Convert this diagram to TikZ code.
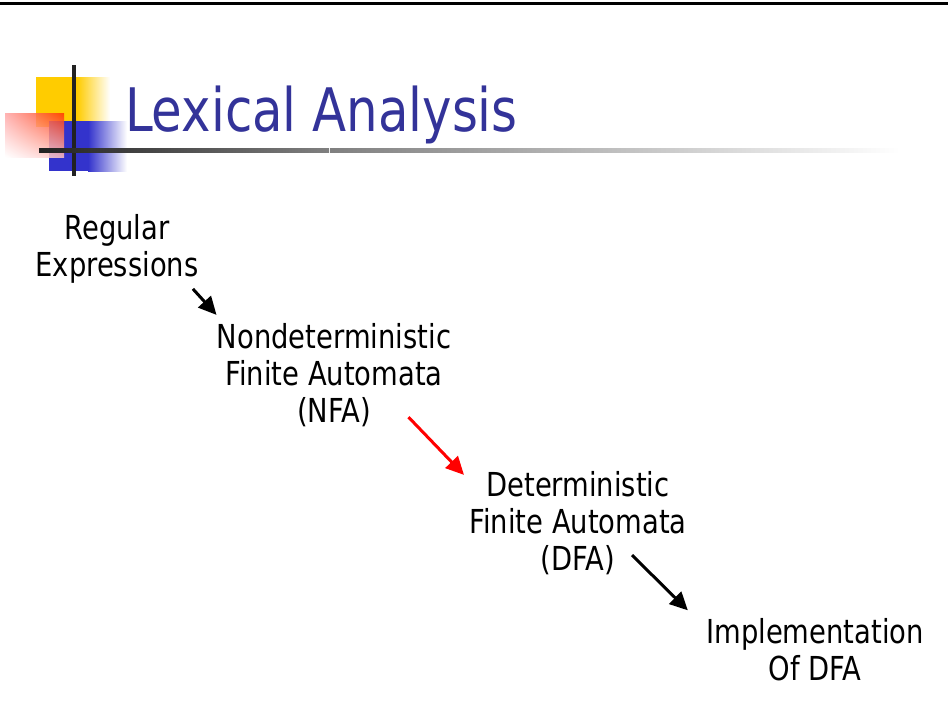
\documentclass[tikz,border=0pt]{standalone}
\usepackage{fontspec}
\setmainfont{DejaVu Sans}[FakeStretch=0.83]
\usetikzlibrary{arrows.meta,shadings}
\definecolor{titleblue}{HTML}{333399}
\definecolor{logoyellow}{HTML}{FFCC00}
\definecolor{logoblue}{HTML}{3333CC}
\definecolor{logored}{HTML}{FF3300}
\definecolor{barblack}{HTML}{222222}

\begin{document}
\begin{tikzpicture}[
    x=0.5pt, y=-0.5pt,
    every node/.style={font=\fontsize{16.5}{18.5}\selectfont}
  ]

  \tikzset{
    stage/.style={align=center, inner sep=0pt},
    flow/.style={-{Triangle[length=9pt,width=8.5pt]}, line width=1.5pt},
    redflow/.style={flow, draw=red}
  }

  \useasboundingbox (0,0) rectangle (948,718);

  % top rule
  \fill[black] (0,1.5) rectangle (948,5);

  % logo
  \fill[logoyellow] (36,77) rectangle (77,127);
  \shade[left color=logoyellow, right color=white] (77,77) rectangle (110,127);
  \fill[logoblue] (49,121) rectangle (88,171);
  \shade[left color=logoblue, right color=white] (88,121) rectangle (127,171);
  \shade[opacity=0.85, upper right=logored, lower left=white, upper left=red!35, lower right=red!25] (5,113) rectangle (64,157);
  \fill[barblack] (72,65) rectangle (76,176);
  \shade[left color=barblack, right color=gray] (39,148) rectangle (329,152);
  \shade[left color=gray, right color=white] (330,148) rectangle (900,152);

  % title
  \node[anchor=base west, text=titleblue, font=\fontsize{30}{36}\selectfont] (title) at (118,131) {Lexical Analysis};

  % stages
  \node[stage] (re) at (117,249) {Regular\\Expressions};
  \node[stage] (nfa) at (334,375) {Nondeterministic\\Finite Automata\\(NFA)};
  \node[stage] (dfa) at (578,523) {Deterministic\\Finite Automata\\(DFA)};
  \node[stage] (impl) at (815,650) {Implementation\\Of DFA};

  % arrows
  \draw[flow] ([shift={(-6,5)}]re.south east) -- ([shift={(0,-8)}]nfa.north west);
  \draw[redflow] ([shift={(-43,-10)}]nfa.south east) -- ([shift={(-5,4)}]dfa.north west);
  \draw[flow] ([shift={(-55,-20)}]dfa.south east) -- ([shift={(-18,-8)}]impl.north west);

\end{tikzpicture}
\end{document}
